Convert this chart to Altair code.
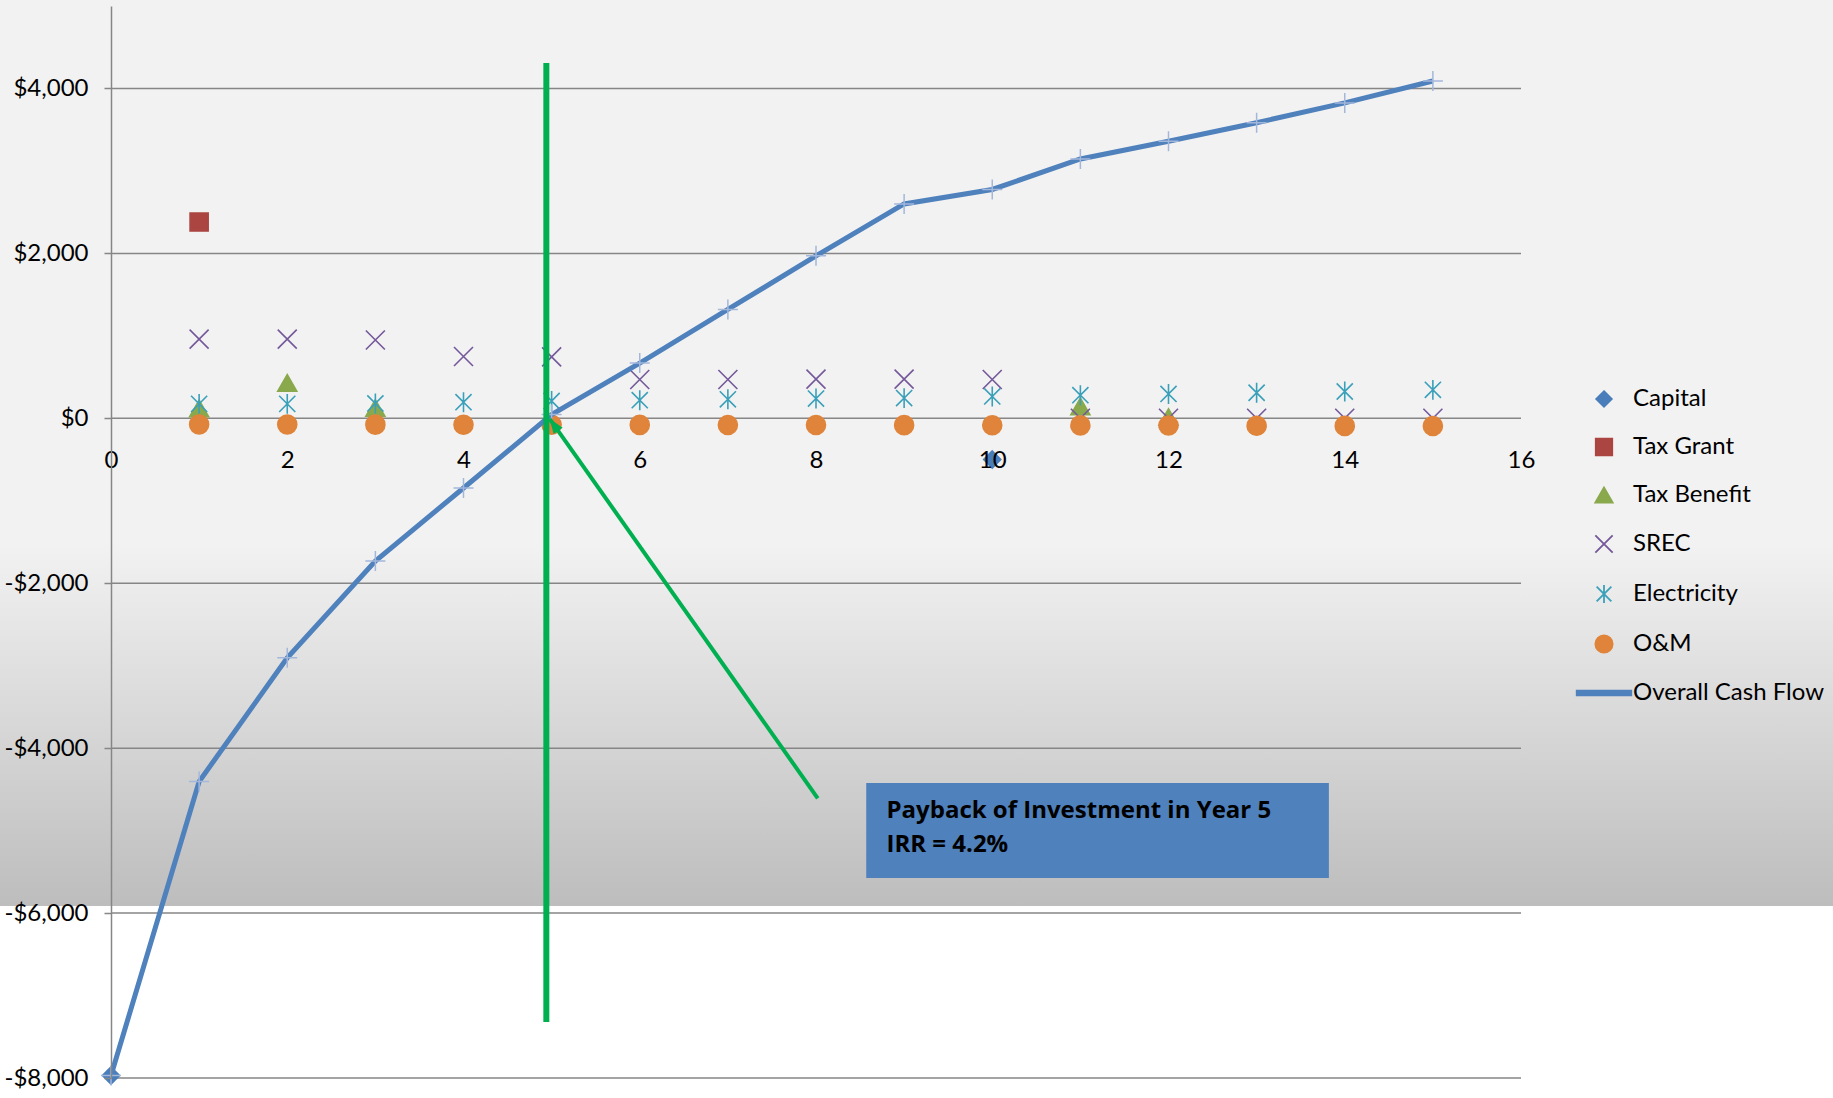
import math
import altair as alt
import pandas as pd

# ---------------- data ----------------
years = list(range(16))
series_names = ["Capital", "Tax Grant", "Tax Benefit", "SREC", "Electricity", "O&M", "Overall Cash Flow"]
capital = [-7970, None, None, None, None, None, None, None, None, None, -500, None, None, None, None, None]
tax_grant = [None, 2380, None, None, None, None, None, None, None, None, None, None, None, None, None, None]
tax_benefit = [None, 120, 430, 125, None, None, None, None, None, None, None, 145, 15, None, None, None]
srec = [None, 960, 960, 950, 750, 745, 470, 470, 475, 475, 470, 0, 0, 0, 0, 0]
electricity = [None, 175, 175, 180, 195, 210, 220, 230, 240, 245, 265, 280, 295, 310, 325, 345]
om = [None, -75, -76, -77, -78, -79, -80, -81, -82, -83, -84, -86, -88, -90, -92, -94]
overall = [-7970, -4405, -2905, -1730, -845, 45, 670, 1320, 1970, 2600, 2775, 3145, 3360, 3585, 3825, 4090]

x_ticks = [0, 2, 4, 6, 8, 10, 12, 14, 16]
y_ticks = [-8000, -6000, -4000, -2000, 0, 2000, 4000]

# annotation (data units)
payback_x = [4.94, 4.94]
payback_y = [4310, -7320]
arrow_x = [8.02, 4.98]
arrow_y = [-4608, -10]
box_x = [8.57, 13.82]
box_y = [-4424, -5576]
box_lines = ["Payback of Investment in Year 5", "IRR = 4.2%"]
box_text_x = [8.8, 8.8]
box_text_y = [-4766, -5178]

# ---------------- styles ----------------
W, H = 1410, 1072
XDOM = [0, 16]
YDOM = [-8000, 5000]
FONT = "Lato"

shapes = [
    "M0,-0.9L0.9,0L0,0.9L-0.9,0Z",
    "M-0.95,-0.95H0.95V0.95H-0.95Z",
    "triangle-up",
    "M-1,-1L1,1M-1,1L1,-1",
    "M-0.85,-0.85L0.85,0.85M-0.85,0.85L0.85,-0.85M0,-1.05V1.05",
    "circle",
    "M-3.15,-0.28H3.15V0.28H-3.15Z",
]
fills = ["#4a7ebb", "#ab4542", "#8aa84c", "transparent", "transparent", "#df843a", "#4f81bd"]
strokes = ["#4a7ebb", "#ab4542", "#8aa84c", "#74589a", "#3aa0ba", "#df843a", "#4f81bd"]

x_scale = alt.Scale(domain=XDOM, nice=False, zero=False)
y_scale = alt.Scale(domain=YDOM, nice=False, zero=False)

label_expr = "(datum.value < 0 ? '-' : '') + '$' + format(abs(datum.value), ',')"

y_axis = alt.Axis(values=y_ticks, labelExpr=label_expr, labelFont=FONT, labelFontSize=24,
                  labelColor="#000000", domainColor="#868686", domainWidth=1.5,
                  tickColor="#868686", tickWidth=1.5, tickSize=7, labelPadding=16,
                  grid=False, title=None, zindex=1, labelOverlap=False)
x_axis = alt.Axis(values=x_ticks, format="d", labelFont=FONT, labelFontSize=24,
                  labelColor="#000000", domain=False, ticks=False, grid=False,
                  offset=-(H - H * YDOM[1] / (YDOM[1] - YDOM[0])), labelPadding=30,
                  title=None, zindex=1, labelFlush=False, labelOverlap=False)

legend = alt.Legend(title=None, orient="none", legendX=1481, legendY=381, symbolSize=300,
                    symbolStrokeWidth=1.8, labelFont=FONT, labelFontSize=24, labelColor="#000000",
                    labelOffset=17, rowPadding=24, padding=0, symbolOpacity=1, labelLimit=400)

# ---------------- frames ----------------
rows = []
for name, vals in zip(series_names[:6], [capital, tax_grant, tax_benefit, srec, electricity, om]):
    for yr, v in zip(years, vals):
        if v is not None:
            rows.append({"year": yr, "value": v, "series": name})
pts_df = pd.DataFrame(rows)
overall_df = pd.DataFrame({"year": years, "value": overall})
grid_df = pd.DataFrame({"v": y_ticks})
vline_df = pd.DataFrame({"x": payback_x, "y": payback_y})
arrow_df = pd.DataFrame({"x": arrow_x, "y": arrow_y})

# arrowhead orientation from the arrow direction (in pixel space)
pxx = W / (XDOM[1] - XDOM[0])
pxy = H / (YDOM[1] - YDOM[0])
dxp = (arrow_x[1] - arrow_x[0]) * pxx
dyp = -(arrow_y[1] - arrow_y[0]) * pxy
ang = math.degrees(math.atan2(dxp, -dyp)) % 360
lenp = math.hypot(dxp, dyp)
back = 7.0
head_df = pd.DataFrame({"x": [arrow_x[1] - dxp / lenp * back / pxx],
                        "y": [arrow_y[1] + dyp / lenp * back / pxy]})
box_df = pd.DataFrame({"x": [box_x[0]], "x2": [box_x[1]], "y": [box_y[0]], "y2": [box_y[1]]})
text_df = pd.DataFrame({"x": box_text_x, "y": box_text_y, "t": box_lines})

# ---------------- layers ----------------
bg = alt.Chart(pd.DataFrame({"a": [0]})).mark_rect(
    fill=alt.Gradient(gradient="linear",
                      stops=[alt.GradientStop(color="#f2f2f2", offset=0),
                             alt.GradientStop(color="#f2f2f2", offset=0.6),
                             alt.GradientStop(color="#bdbdbd", offset=1)],
                      x1=0, x2=0, y1=0, y2=1)
).encode(x=alt.value(-111), x2=alt.value(1722), y=alt.value(-6), y2=alt.value(900))

grid = alt.Chart(grid_df).mark_rule(color="#868686", strokeWidth=1.5).encode(
    y=alt.Y("v:Q", scale=y_scale, axis=y_axis))

points = alt.Chart(pts_df).mark_point(opacity=1, size=361, strokeWidth=1.6).encode(
    x=alt.X("year:Q", scale=x_scale, axis=x_axis),
    y=alt.Y("value:Q", scale=y_scale, axis=y_axis),
    shape=alt.Shape("series:N", scale=alt.Scale(domain=series_names, range=shapes), legend=legend),
    fill=alt.Fill("series:N", scale=alt.Scale(domain=series_names, range=fills), legend=legend),
    stroke=alt.Stroke("series:N", scale=alt.Scale(domain=series_names, range=strokes), legend=legend),
)

line = alt.Chart(overall_df).mark_line(color="#4f81bd", strokeWidth=5).encode(
    x=alt.X("year:Q", scale=x_scale, axis=x_axis), y=alt.Y("value:Q", scale=y_scale, axis=y_axis))

plus = alt.Chart(overall_df).mark_point(shape="M-1,0H1M0,-1V1", filled=False, color="#a3b7db",
                                        strokeWidth=1.5, size=400, opacity=1).encode(
    x=alt.X("year:Q", scale=x_scale, axis=x_axis), y=alt.Y("value:Q", scale=y_scale, axis=y_axis))

vline = alt.Chart(vline_df).mark_line(color="#00b050", strokeWidth=6).encode(
    x=alt.X("x:Q", scale=x_scale, axis=x_axis), y=alt.Y("y:Q", scale=y_scale, axis=y_axis))

arrow = alt.Chart(arrow_df).mark_line(color="#00b050", strokeWidth=4).encode(
    x=alt.X("x:Q", scale=x_scale, axis=x_axis), y=alt.Y("y:Q", scale=y_scale, axis=y_axis))

head = alt.Chart(head_df).mark_point(shape="M0,-1L0.75,1L-0.75,1Z", filled=True, color="#00b050",
                                     size=220, opacity=1, angle=ang).encode(
    x=alt.X("x:Q", scale=x_scale, axis=x_axis), y=alt.Y("y:Q", scale=y_scale, axis=y_axis))

box = alt.Chart(box_df).mark_rect(color="#4f81bd", opacity=1).encode(
    x=alt.X("x:Q", scale=x_scale, axis=x_axis), x2="x2:Q",
    y=alt.Y("y:Q", scale=y_scale, axis=y_axis), y2="y2:Q")

text = alt.Chart(text_df).mark_text(align="left", baseline="middle", font="Open Sans", fontSize=24,
                                    fontWeight="bold", color="#000000").encode(
    x=alt.X("x:Q", scale=x_scale, axis=x_axis), y=alt.Y("y:Q", scale=y_scale, axis=y_axis), text="t:N")

chart = alt.layer(bg, grid, points, line, plus, vline, arrow, head, box, text).properties(
    width=W, height=H,
    autosize=alt.AutoSizeParams(type="none"),
    padding={"left": 111, "top": 6, "right": 312, "bottom": 20},
).configure_view(strokeWidth=0)

chart.save("out.html", embed_options={"renderer": "svg", "actions": False})
